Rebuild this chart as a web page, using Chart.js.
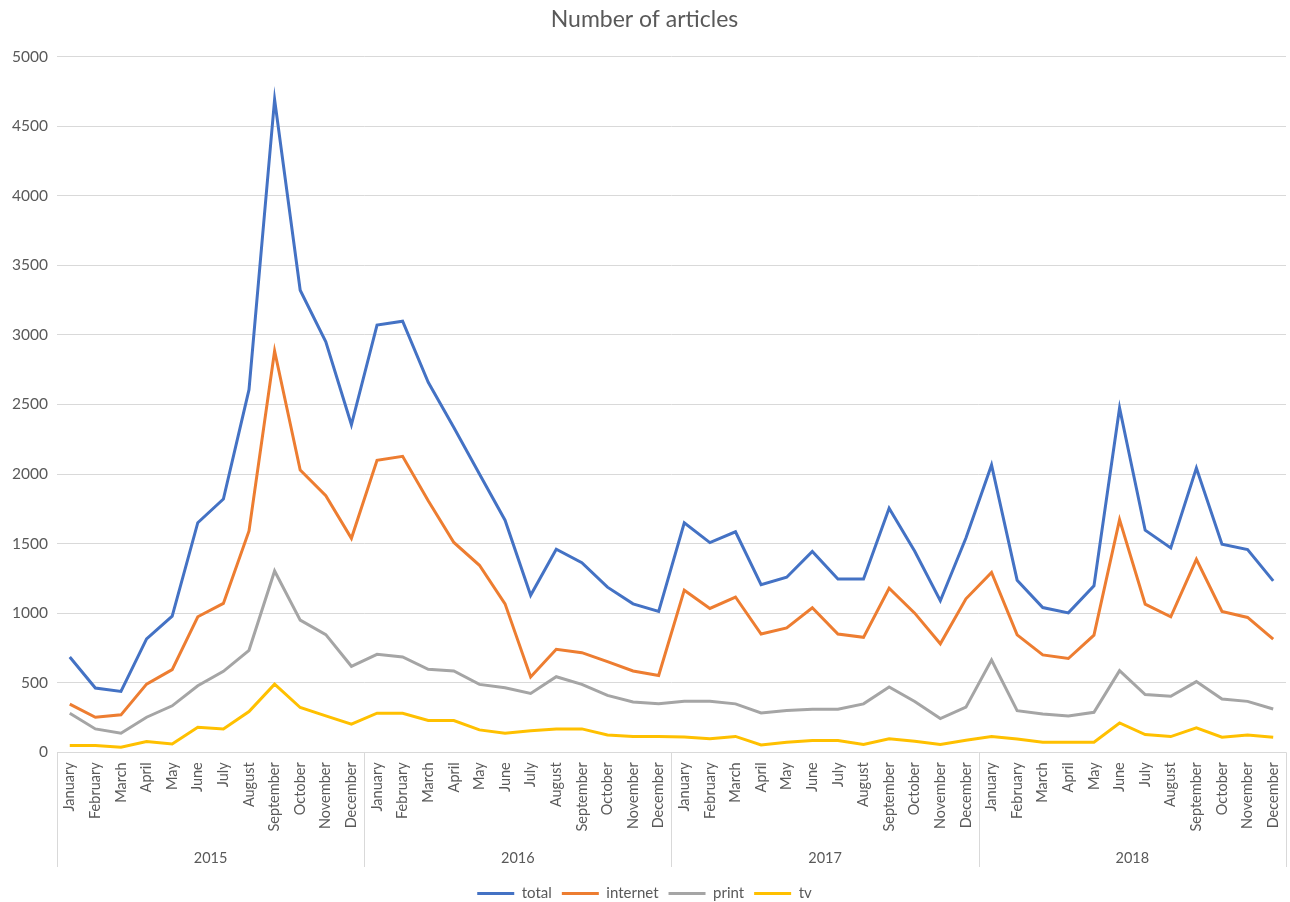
<!DOCTYPE html>
<html>
<head>
<meta charset="utf-8">
<script src="https://cdn.jsdelivr.net/npm/chart.js@4/dist/chart.umd.min.js"></script>
<style>
  html, body { margin: 0; padding: 0; background: #ffffff; }
  #wrap { width: 1290px; height: 902px; }
</style>
</head>
<body>
<div id="wrap"><canvas id="c" width="1290" height="902"></canvas></div>
<script>
const years = ['2015', '2016', '2017', '2018'];
const months = ['January', 'February', 'March', 'April', 'May', 'June', 'July',
  'August', 'September', 'October', 'November', 'December'];
const yTicks = [0, 500, 1000, 1500, 2000, 2500, 3000, 3500, 4000, 4500, 5000];

const total = [
  685, 462, 437, 815, 978, 1650, 1820, 2606, 4692, 3321, 2950, 2354,
  3070, 3098, 2659, 2335, 2000, 1668, 1128, 1459, 1363, 1187, 1067, 1012,
  1650, 1507, 1585, 1205, 1258, 1444, 1246, 1246, 1754, 1445, 1089, 1540,
  2065, 1237, 1040, 1002, 1196, 2475, 1596, 1469, 2043, 1495, 1457, 1232
];
const internet = [
  346, 252, 269, 490, 594, 974, 1070, 1591, 2884, 2029, 1844, 1538,
  2098, 2127, 1808, 1508, 1344, 1067, 541, 740, 716, 651, 584, 552,
  1165, 1034, 1116, 850, 894, 1039, 850, 826, 1179, 1000, 780, 1103,
  1292, 844, 700, 674, 842, 1672, 1065, 974, 1387, 1012, 969, 813
];
const print = [
  281, 168, 137, 252, 334, 478, 582, 733, 1303, 950, 846, 618,
  704, 685, 596, 584, 488, 464, 423, 543, 488, 409, 361, 349,
  367, 367, 348, 283, 300, 309, 309, 348, 469, 365, 242, 324,
  663, 299, 275, 261, 287, 587, 415, 403, 508, 383, 366, 311
];
const tv = [
  48, 48, 36, 77, 60, 180, 168, 293, 490, 322, 262, 202,
  281, 281, 228, 228, 161, 137, 154, 168, 168, 125, 113, 113,
  109, 97, 114, 53, 72, 85, 85, 56, 97, 80, 56, 87,
  113, 96, 72, 72, 72, 211, 127, 113, 175, 108, 125, 108
];

const seriesNames = ['total', 'internet', 'print', 'tv'];
const seriesColors = ['#4472C4', '#ED7D31', '#A5A5A5', '#FFC000'];
const seriesValues = [total, internet, print, tv];

// one category per month of every year
const labels = [];
years.forEach(() => months.forEach(m => labels.push(m)));

const TEXT = '#595959';
const GRID = '#d9d9d9';
const FONT = 'Lato, "Open Sans", sans-serif';

// vertical separators of the two-level category axis
const groupSeparators = {
  id: 'groupSeparators',
  afterDraw(chart) {
    const xs = chart.scales.x;
    const ys = chart.scales.year;
    const ctx = chart.ctx;
    const step = xs.getPixelForValue(1) - xs.getPixelForValue(0);
    ctx.save();
    ctx.strokeStyle = GRID;
    ctx.lineWidth = 1;
    for (let g = 0; g <= years.length; g++) {
      const x = Math.round(xs.getPixelForValue(g * months.length) - step / 2) + 0.5;
      ctx.beginPath();
      ctx.moveTo(x, xs.top);
      ctx.lineTo(x, ys.bottom - 9);
      ctx.stroke();
    }
    ctx.restore();
  }
};

new Chart(document.getElementById('c'), {
  type: 'line',
  data: {
    labels: labels,
    datasets: seriesNames.map((name, i) => ({
      label: name,
      data: seriesValues[i],
      borderColor: seriesColors[i],
      backgroundColor: seriesColors[i],
      borderWidth: 3,
      pointRadius: 0,
      pointHoverRadius: 0,
      tension: 0,
      fill: false,
      xAxisID: 'x',
      yAxisID: 'y'
    }))
  },
  options: {
    responsive: false,
    animation: false,
    devicePixelRatio: 1,
    layout: { padding: { left: 3, right: 4, top: 0, bottom: -9 } },
    plugins: {
      title: {
        display: true,
        text: 'Number of articles',
        color: TEXT,
        font: { family: FONT, size: 23, weight: 'normal' },
        padding: { top: 6, bottom: 23 }
      },
      legend: {
        display: true,
        position: 'bottom',
        labels: {
          usePointStyle: true,
          pointStyle: 'line',
          pointStyleWidth: 37,
          color: TEXT,
          font: { family: FONT, size: 15 },
          padding: 10
        }
      },
      tooltip: { enabled: false }
    },
    scales: {
      y: {
        min: 0,
        max: 5000,
        afterBuildTicks(scale) { scale.ticks = yTicks.map(v => ({ value: v })); },
        grid: { color: GRID, lineWidth: 1, drawTicks: false },
        border: { display: false },
        ticks: {
          color: TEXT,
          font: { family: FONT, size: 15.5 },
          padding: 9,
          callback: (v) => String(v)
        }
      },
      x: {
        type: 'category',
        offset: true,
        weight: 0,
        afterFit(scale) { scale.paddingLeft = 0; scale.paddingRight = 0; },
        grid: { display: false, drawTicks: false },
        border: { display: false },
        ticks: {
          autoSkip: false,
          minRotation: 90,
          maxRotation: 90,
          color: TEXT,
          font: { family: FONT, size: 14.5 },
          padding: 10
        }
      },
      year: {
        type: 'category',
        position: 'bottom',
        labels: years,
        offset: true,
        weight: 1,
        afterFit(scale) { scale.height += 1; scale.paddingLeft = 0; scale.paddingRight = 0; },
        grid: { display: false, drawTicks: false },
        border: { display: false },
        ticks: {
          autoSkip: false,
          maxRotation: 0,
          color: TEXT,
          font: { family: FONT, size: 14.5 },
          padding: 8
        }
      }
    }
  },
  plugins: [groupSeparators]
});
</script>
</body>
</html>
